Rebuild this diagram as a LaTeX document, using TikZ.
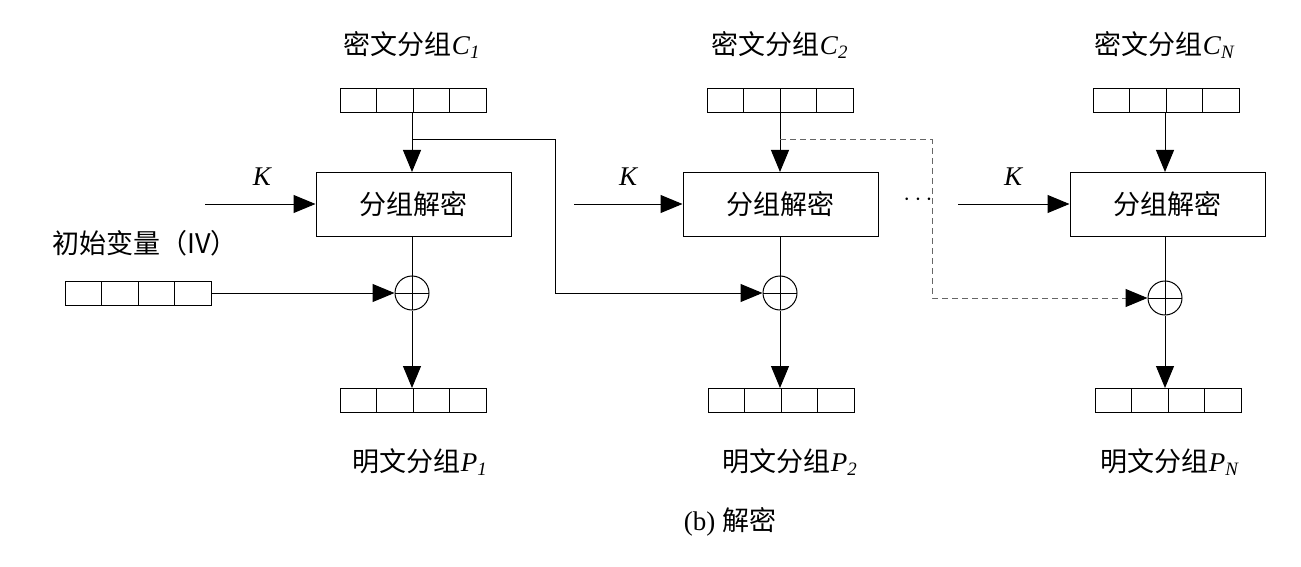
\documentclass[tikz,border=0pt]{standalone}
\usepackage{fontspec}
\setmainfont{Liberation Serif}
\newfontfamily\cjk{Noto Sans CJK SC}
\usetikzlibrary{arrows.meta}
\begin{document}
\begin{tikzpicture}[x=1pt,y=-1pt,
  ln/.style={line width=1pt},
  arr/.style={ln,-{Triangle[length=22pt,width=18pt]}},
  dec/.style={draw,line width=1pt,minimum width=195pt,minimum height=64pt,inner sep=0pt,font=\fontsize{27}{30}\selectfont\cjk},
  cell/.style={draw,line width=1pt,minimum width=36.5pt,minimum height=24pt,inner sep=0pt},
  xor/.style={draw,line width=1pt,circle,minimum size=34pt,inner sep=0pt,
    path picture={\draw[line width=1pt] (path picture bounding box.north)--(path picture bounding box.south) (path picture bounding box.west)--(path picture bounding box.east);}},
  lab/.style={font=\fontsize{27}{30}\selectfont},
  dots/.style={dash pattern=on 6pt off 4pt,line width=1pt,gray!80!black}]
\useasboundingbox (0,0) rectangle (1301,567);
\newcommand\blk[3]{% name, left x, center y
  \foreach \i in {0,1,2,3}{\node[cell] (#1\i) at ({#2+18.25+36.5*\i},#3) {};}
  \coordinate (#1) at ({#2+73},#3);}
\blk{c1}{340}{101}
\blk{c2}{707}{101}
\blk{cn}{1093}{101}
\node[lab] (lc1) at (412,45) {{\cjk 密文分组}\textit{C}\textsubscript{\textit{1}}};
\node[lab] (lc2) at (780,45) {{\cjk 密文分组}\textit{C}\textsubscript{\textit{2}}};
\node[lab] (lcn) at (1165,45) {{\cjk 密文分组}\textit{C}\textsubscript{\textit{N}}};
\node[dec] (d1) at (413.5,204) {分组解密};
\node[dec] (d2) at (780.5,204) {分组解密};
\node[dec] (d3) at (1167.5,204) {分组解密};
\coordinate (k1) at (205,204); \coordinate (k2) at (574,204); \coordinate (k3) at (958,204);
\node[lab,font=\fontsize{27}{30}\selectfont\itshape] (kl1) at (262,177) {K};
\node[lab,font=\fontsize{27}{30}\selectfont\itshape] (kl2) at (628,177) {K};
\node[lab,font=\fontsize{27}{30}\selectfont\itshape] (kl3) at (1013,177) {K};
\draw[arr] (k1) -- (d1);
\draw[arr] (k2) -- (d2);
\draw[arr] (k3) -- (d3);
\node[lab] (dd) at (918,200) {$\cdots$};
\node[xor] (x1) at (412,293) {};
\node[xor] (x2) at (780,293) {};
\node[xor] (x3) at (1165,298) {};
\blk{p1}{340}{400}
\blk{p2}{708}{400}
\blk{pn}{1095}{400}
\node[lab] (lp1) at (420,462) {{\cjk 明文分组}\textit{P}\textsubscript{\textit{1}}};
\node[lab] (lp2) at (790,462) {{\cjk 明文分组}\textit{P}\textsubscript{\textit{2}}};
\node[lab] (lpn) at (1170,462) {{\cjk 明文分组}\textit{P}\textsubscript{\textit{N}}};
\node[lab] (liv) at (145,243) {\cjk 初始变量（IV）};
\blk{iv}{65}{293}
\draw[arr] (412,113) -- (412,172);
\draw[arr] (780,113) -- (780,172);
\draw[arr] (1165,113) -- (1165,172);
\draw[ln] (412,236) -- (x1);
\draw[ln] (780,236) -- (x2);
\draw[ln] (1165,236) -- (x3);
\draw[arr] (x1) -- (412,388);
\draw[arr] (x2) -- (780,388);
\draw[arr] (x3) -- (1165,388);
\draw[arr] (iv3.east) -- (x1);
\draw[arr] (412,140) -- (555,140) -- (555,293) -- (x2);
\draw[dots] (780,140) -- (932,140) -- (932,298) -- (1126,298);
\draw[arr] (1126,298) -- (x3);
\node[lab] (cap) at (730,522) {(b) {\cjk 解密}};
\end{tikzpicture}
\end{document}
